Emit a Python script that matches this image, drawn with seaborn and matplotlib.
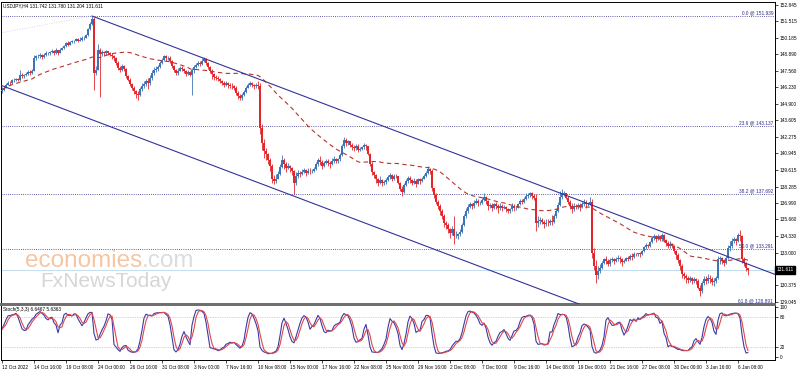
import numpy as np
import pandas as pd
import matplotlib
matplotlib.use("Agg")
import matplotlib.pyplot as plt
import matplotlib.transforms as mtransforms
import seaborn as sns

# ---------------- data ----------------
symbol_line = "USDJPY,H4 131.742 131.780 131.204 131.611"
stoch_line = "Stoch(5,3,3) 6.6467 5.6363"
open0 = 145.90
close = [
    146.05, 146.20, 146.45, 146.60, 146.55, 146.80,
    146.85, 146.90, 146.80, 147.20, 147.10, 147.20,
    147.30, 147.45, 147.40, 147.55, 148.55, 148.70,
    148.75, 148.80, 148.65, 148.85, 148.95, 148.95,
    149.05, 149.15, 148.95, 149.20, 149.00, 149.25,
    149.35, 149.50, 149.75, 149.65, 149.85, 149.90,
    149.95, 150.10, 149.95, 150.05, 150.15, 150.20,
    150.40, 150.90, 151.30, 151.70, 147.40, 147.65,
    149.20, 148.90, 149.05, 148.95, 149.10, 149.00,
    148.85, 148.70, 148.55, 148.20, 147.80, 147.60,
    147.95, 147.70, 147.10, 146.85, 146.50, 146.20,
    145.90, 145.70, 145.60, 146.10, 146.30, 146.50,
    146.70, 146.60, 147.00, 147.40, 147.65, 147.70,
    147.85, 148.20, 148.45, 148.70, 148.55, 148.60,
    148.30, 147.90, 147.60, 147.35, 147.55, 147.80,
    147.70, 147.50, 147.30, 147.45, 147.25, 147.60,
    147.85, 148.05, 148.20, 148.10, 148.35, 148.50,
    148.15, 147.85, 147.55, 147.30, 147.05, 146.95,
    146.90, 146.75, 146.60, 146.45, 146.55, 146.40,
    146.35, 146.30, 146.20, 145.80, 145.55, 145.40,
    145.60, 145.85, 146.20, 146.40, 146.55, 146.45,
    146.30, 146.45, 146.35, 143.00, 141.80, 141.10,
    140.85, 140.40, 139.90, 138.90, 138.70, 138.90,
    139.30, 139.85, 140.40, 140.05, 139.80, 139.95,
    139.75, 139.50, 138.60, 139.10, 139.35, 139.30,
    139.45, 139.60, 139.35, 139.55, 139.50, 139.55,
    139.70, 140.05, 140.40, 140.25, 139.90, 140.20,
    140.35, 140.20, 140.05, 140.35, 140.45, 140.30,
    140.45, 140.80, 141.50, 142.05, 141.75, 141.90,
    141.65, 141.45, 141.35, 141.55, 141.25, 141.30,
    141.45, 141.60, 141.50, 140.90, 140.10, 139.45,
    139.20, 138.85, 138.60, 138.80, 138.55, 138.65,
    138.80, 139.05, 139.20, 138.90, 139.15, 139.10,
    138.60, 138.10, 137.85, 138.40, 138.70, 138.95,
    138.80, 138.55, 138.75, 138.50, 138.85, 138.70,
    138.90, 139.10, 139.40, 139.65, 139.50, 138.15,
    137.60, 137.05, 136.70, 136.30, 135.95, 135.35,
    135.20, 134.85, 134.60, 134.90, 134.30, 134.35,
    134.45, 134.65, 135.20, 135.90, 136.30, 136.65,
    136.90, 136.70, 137.00, 137.15, 136.95, 137.00,
    137.20, 137.45, 137.10, 136.75, 136.80, 136.60,
    136.85, 136.70, 136.55, 136.75, 136.60, 136.65,
    136.50, 136.30, 136.45, 136.70, 136.55, 136.55,
    136.85, 137.10, 137.05, 137.30, 137.55, 137.60,
    137.75, 137.55, 137.40, 135.40, 135.55, 135.60,
    135.45, 135.25, 135.40, 135.35, 135.50, 135.45,
    135.90, 136.35, 136.80, 137.45, 137.70, 137.75,
    137.40, 137.05, 136.75, 136.50, 136.70, 136.65,
    136.80, 136.65, 136.90, 137.00, 136.85, 136.90,
    137.05, 133.00, 131.90, 131.20, 131.55, 131.80,
    132.15, 132.45, 132.35, 132.10, 132.40, 132.45,
    132.30, 132.50, 132.60, 132.45, 132.25, 132.35,
    132.55, 132.50, 132.75, 132.65, 132.90, 132.85,
    132.95, 132.85, 133.10, 133.45, 133.60, 133.50,
    133.85, 134.20, 134.30, 134.10, 134.35, 134.10,
    134.40, 134.00, 133.75, 133.55, 133.70, 133.55,
    133.10, 132.80, 132.40, 131.90, 131.30, 131.15,
    130.95, 130.80, 130.95, 130.75, 130.90, 130.70,
    130.20, 129.95, 130.55, 130.85, 130.70, 131.00,
    130.85, 130.65, 130.70, 130.95, 132.45, 132.55,
    132.35, 132.20, 132.55, 133.40, 133.55, 133.95,
    134.05, 133.90, 134.40, 134.30, 132.45, 132.20,
    131.742, 131.611,
]
high = [
    146.25, 146.35, 146.55, 146.75, 146.70, 146.90,
    146.95, 147.00, 147.00, 147.65, 147.40, 147.30,
    147.45, 147.60, 147.60, 147.70, 148.85, 148.80,
    148.90, 148.95, 148.90, 149.00, 149.10, 149.05,
    149.15, 149.30, 149.20, 149.35, 149.25, 149.35,
    149.45, 149.60, 149.85, 149.90, 149.95, 149.98,
    150.05, 150.20, 150.15, 150.25, 150.30, 150.30,
    150.50, 151.00, 151.45, 151.94, 151.85, 147.90,
    149.70, 149.35, 149.20, 149.15, 149.25, 149.15,
    149.05, 148.95, 148.80, 148.65, 148.30, 147.95,
    148.10, 148.05, 147.75, 147.20, 146.95, 146.60,
    146.35, 146.05, 145.95, 146.25, 146.55, 146.70,
    146.90, 146.95, 147.20, 147.60, 147.85, 147.90,
    148.05, 148.35, 148.60, 148.85, 148.80, 148.75,
    148.70, 148.40, 148.00, 147.70, 147.75, 147.95,
    147.95, 147.80, 147.60, 147.65, 147.55, 147.75,
    148.00, 148.20, 148.35, 148.30, 148.55, 148.65,
    148.55, 148.25, 147.95, 147.70, 147.35, 147.20,
    147.10, 147.00, 146.85, 146.75, 146.70, 146.65,
    146.60, 146.55, 146.45, 146.30, 145.90, 145.70,
    145.80, 146.00, 146.35, 146.55, 146.70, 146.65,
    146.50, 146.60, 146.70, 146.55, 143.30, 142.10,
    141.40, 141.00, 140.60, 140.10, 139.20, 139.25,
    139.55, 140.10, 140.80, 140.60, 140.25, 140.15,
    140.00, 139.85, 139.60, 139.45, 139.60, 139.50,
    139.65, 139.80, 139.70, 139.75, 139.75, 139.70,
    139.85, 140.25, 140.55, 140.75, 140.40, 140.35,
    140.50, 140.45, 140.30, 140.60, 140.70, 140.55,
    140.60, 141.00, 141.70, 142.25, 142.20, 142.05,
    141.95, 141.80, 141.60, 141.70, 141.70, 141.45,
    141.55, 141.80, 141.70, 141.55, 141.00, 140.25,
    139.55, 139.30, 139.00, 139.10, 138.90, 138.80,
    138.95, 139.20, 139.40, 139.25, 139.30, 139.30,
    139.05, 138.65, 138.30, 138.60, 138.85, 139.10,
    139.10, 138.90, 138.95, 138.90, 139.00, 139.00,
    139.05, 139.30, 139.55, 139.90, 139.80, 139.65,
    138.20, 137.75, 137.20, 136.85, 136.45, 136.10,
    135.55, 135.35, 135.00, 135.10, 135.95, 134.70,
    134.60, 134.90, 135.35, 136.10, 136.55, 136.85,
    137.05, 137.00, 137.20, 137.35, 137.30, 137.15,
    137.35, 137.80, 137.55, 137.20, 137.00, 136.95,
    137.00, 137.05, 136.90, 136.95, 136.85, 136.80,
    136.75, 136.60, 136.60, 137.00, 136.85, 136.70,
    137.00, 137.25, 137.30, 137.45, 137.75, 137.80,
    137.85, 137.85, 137.65, 137.70, 135.90, 135.85,
    135.75, 135.60, 135.70, 135.65, 135.70, 136.00,
    136.05, 136.50, 137.05, 137.95, 138.05, 137.90,
    137.80, 137.50, 137.20, 136.95, 136.95, 136.85,
    137.00, 136.95, 137.10, 137.30, 137.20, 137.05,
    137.45, 137.30, 133.40, 132.40, 131.95, 132.05,
    132.30, 132.60, 132.70, 132.45, 132.55, 132.65,
    132.60, 132.65, 132.80, 132.75, 132.55, 132.50,
    132.65, 132.70, 132.90, 132.95, 133.05, 132.95,
    133.00, 133.05, 133.20, 133.55, 133.75, 133.70,
    133.95, 134.35, 134.50, 134.40, 134.45, 134.40,
    134.55, 134.50, 134.10, 133.95, 133.90, 133.80,
    133.60, 133.20, 132.95, 132.50, 132.05, 131.45,
    131.30, 131.10, 131.15, 131.05, 131.05, 131.00,
    130.85, 130.40, 130.75, 131.10, 131.15, 131.25,
    131.20, 131.05, 131.00, 131.15, 132.70, 132.75,
    132.65, 132.50, 132.75, 133.60, 133.95, 134.15,
    134.25, 134.20, 134.60, 134.77, 134.40, 132.65,
    132.25, 131.780,
]
low = [
    145.80, 145.95, 146.15, 146.40, 146.40, 146.50,
    146.65, 146.75, 146.70, 146.75, 146.95, 147.00,
    147.10, 147.20, 147.25, 147.30, 147.50, 148.45,
    148.55, 148.60, 148.50, 148.60, 148.75, 148.80,
    148.85, 148.95, 148.80, 148.90, 148.85, 148.95,
    149.20, 149.30, 149.45, 149.50, 149.60, 149.75,
    149.80, 149.90, 149.85, 149.90, 149.95, 150.05,
    150.15, 150.35, 150.85, 151.20, 146.00, 147.20,
    147.60, 145.45, 148.70, 148.75, 148.85, 148.80,
    148.70, 148.50, 148.35, 148.05, 147.65, 147.45,
    147.50, 147.55, 146.95, 146.70, 146.30, 146.05,
    145.70, 145.40, 145.20, 145.55, 145.95, 146.15,
    146.30, 146.10, 146.40, 146.85, 147.25, 147.45,
    147.55, 147.75, 148.10, 148.35, 148.30, 148.40,
    148.20, 147.80, 147.45, 147.20, 147.25, 147.50,
    147.55, 147.35, 147.15, 147.20, 147.10, 145.60,
    147.40, 147.75, 147.95, 147.90, 148.00, 148.25,
    148.00, 147.70, 147.40, 146.90, 146.85, 146.80,
    146.70, 146.55, 146.40, 146.25, 146.35, 146.20,
    146.15, 146.10, 146.00, 145.60, 145.30, 145.20,
    145.25, 145.50, 145.80, 146.15, 146.30, 146.25,
    146.10, 146.20, 146.10, 142.50, 141.20, 140.60,
    140.40, 140.10, 139.50, 138.55, 138.45, 138.55,
    138.85, 139.20, 139.75, 139.70, 139.45, 139.65,
    139.45, 139.20, 137.70, 138.40, 138.95, 139.05,
    139.20, 139.35, 139.15, 139.25, 139.25, 139.35,
    139.45, 139.60, 139.95, 140.00, 139.70, 139.85,
    140.10, 139.95, 139.80, 140.00, 140.15, 140.15,
    140.20, 140.35, 140.75, 141.40, 141.55, 141.60,
    141.45, 141.25, 141.10, 141.20, 141.05, 141.15,
    141.20, 141.30, 141.20, 140.80, 139.90, 139.20,
    138.95, 138.60, 138.35, 138.45, 138.30, 138.40,
    138.50, 138.70, 138.90, 138.75, 138.80, 138.95,
    138.45, 137.95, 137.55, 137.80, 138.30, 138.60,
    138.55, 138.40, 138.45, 138.25, 138.45, 138.50,
    138.65, 138.85, 139.05, 139.30, 139.25, 137.95,
    137.40, 136.85, 136.45, 136.00, 135.70, 135.05,
    134.90, 134.55, 134.20, 134.40, 133.65, 134.15,
    134.10, 134.35, 134.60, 135.10, 135.80, 136.20,
    136.55, 136.50, 136.60, 136.85, 136.75, 136.80,
    136.90, 137.10, 136.85, 136.40, 136.55, 136.35,
    136.50, 136.45, 136.20, 136.40, 136.35, 136.45,
    136.25, 136.15, 136.20, 136.35, 136.35, 136.40,
    136.60, 136.80, 136.90, 136.95, 137.20, 137.40,
    137.45, 137.30, 137.20, 134.70, 135.05, 135.30,
    135.25, 135.00, 135.10, 135.10, 135.20, 135.20,
    135.40, 135.80, 136.25, 136.70, 137.25, 137.50,
    137.25, 136.90, 136.45, 136.20, 136.35, 136.45,
    136.45, 136.35, 136.60, 136.70, 136.60, 136.70,
    136.80, 132.60, 131.60, 130.58, 130.90, 131.35,
    131.70, 132.05, 132.05, 131.90, 131.95, 132.25,
    132.10, 132.25, 132.35, 132.20, 131.95, 132.15,
    132.30, 132.35, 132.40, 132.40, 132.55, 132.75,
    132.70, 132.65, 132.80, 133.05, 133.30, 133.35,
    133.45, 133.80, 134.00, 133.85, 134.00, 133.90,
    133.95, 133.85, 133.50, 133.35, 133.40, 133.35,
    132.95, 132.50, 132.20, 131.60, 130.95, 130.90,
    130.60, 130.55, 130.65, 130.50, 130.60, 130.45,
    130.05, 129.50, 129.80, 130.40, 130.45, 130.60,
    130.55, 130.40, 130.35, 130.55, 130.85, 132.10,
    132.05, 131.90, 132.10, 132.45, 133.10, 133.40,
    133.80, 133.60, 133.85, 133.90, 132.20, 131.95,
    131.55, 131.204,
]
date_labels = ["12 Oct 2022", "14 Oct 16:00", "19 Oct 08:00", "24 Oct 00:00", "26 Oct 16:00",
               "31 Oct 08:00", "3 Nov 00:00", "7 Nov 16:00", "10 Nov 08:00", "15 Nov 00:00",
               "17 Nov 16:00", "22 Nov 08:00", "25 Nov 00:00", "29 Nov 16:00", "2 Dec 08:00",
               "7 Dec 00:00", "9 Dec 16:00", "14 Dec 08:00", "19 Dec 00:00", "21 Dec 16:00",
               "27 Dec 08:00", "30 Dec 00:00", "3 Jan 16:00", "6 Jan 08:00"]
bars_per_label = 16
price_ticks = [152.845, 151.515, 150.185, 148.890, 147.560, 146.230, 144.900, 143.605,
               142.275, 140.945, 139.615, 138.285, 136.990, 135.660, 134.330, 133.000,
               130.375, 129.045]
stoch_ticks = [100, 80, 20, 0]
fib_levels = [0.0, 23.6, 38.2, 50.0, 61.8]
fib_prices = [151.939, 143.137, 137.692, 133.291, 128.891]
last_price = 131.611
upper_channel_bars = [45, 386.5]
upper_channel_prices = [151.939, 131.25]
lower_channel_bars = [-1, 386.5]
lower_channel_prices = [146.42, 122.94]
fib_trend_bars = [-1, 45]
fib_trend_prices = [150.58, 151.939]
ma_period = 50

# ---------------- styling ----------------
sns.set_theme(style="white")
plt.rcParams["font.family"] = ["Liberation Sans", "DejaVu Sans"]
FS = 3.4
BULL = "#3f74b4"
BEAR = "#e3262b"
NAVY = "#2b2b8c"
W, H = 798, 372

df = pd.DataFrame({"bar": np.arange(len(close)), "close": close, "high": high, "low": low})
df["open"] = [open0] + close[:-1]
df["high"] = np.maximum(df["high"], df[["open", "close"]].max(axis=1))
df["low"] = np.minimum(df["low"], df[["open", "close"]].min(axis=1))
df["ma"] = df["close"].rolling(ma_period, min_periods=1).mean()
ll = df["low"].rolling(5, min_periods=1).min()
hh = df["high"].rolling(5, min_periods=1).max()
df["k"] = (df["close"] - ll).rolling(3, min_periods=1).sum() / (hh - ll).rolling(3, min_periods=1).sum() * 100
df["d"] = df["k"].rolling(3, min_periods=1).mean()

fig = plt.figure(figsize=(W / 100, H / 100), dpi=100)
fig.patch.set_facecolor("white")
L, R = 1 / W, 775 / W
ax = fig.add_axes([L, 1 - 304 / H, R - L, 302 / H])
ax2 = fig.add_axes([L, 1 - 360 / H, R - L, 55 / H])
xlim = (-0.5, 386.5)

# fib lines and current price line
for lvl, p in zip(fib_levels, fib_prices):
    ax.axhline(p, color=NAVY, lw=0.6, ls=(0, (1, 1.6)), zorder=1)
    ax.text(385.5, p + 0.08, f"{lvl:.1f} @ {p:.3f}", ha="right", va="bottom",
            fontsize=FS, color=NAVY, zorder=5)
ax.axhline(last_price, color="#c6dff0", lw=0.8, zorder=1)

# watermark
t1 = fig.text(25 / W, 1 - 267 / H, "economies", fontsize=17.5, color="#f6c6a2",
              family=["Liberation Sans", "DejaVu Sans"], zorder=0)
fig.canvas.draw()
bb = t1.get_window_extent()
fig.text(bb.x1 / W, 1 - 267 / H, ".com", fontsize=17.5, color="#dcdcdc",
         family=["Liberation Sans", "DejaVu Sans"], zorder=0)
fig.text(40 / W, 1 - 287 / H, "FxNewsToday", fontsize=15, color="#d6d6d6",
         family=["Liberation Sans", "DejaVu Sans"], zorder=0)

# candles
up = df["close"] >= df["open"]
cols = np.where(up, BULL, BEAR)
ax.vlines(df["bar"], df["low"], df["high"], colors=cols, lw=0.6, zorder=3)
body = (df["close"] - df["open"]).abs().clip(lower=0.04)
ax.bar(df["bar"], body, bottom=np.minimum(df["open"], df["close"]), width=0.8,
       color=cols, linewidth=0, zorder=3)

# moving average
sns.lineplot(data=df, x="bar", y="ma", ax=ax, color="#b8342c", lw=0.8,
             linestyle=(0, (4, 3)), zorder=4)

# channel & fib trend line
ch_up = pd.DataFrame({"bar": upper_channel_bars, "p": upper_channel_prices})
ch_lo = pd.DataFrame({"bar": lower_channel_bars, "p": lower_channel_prices})
ft = pd.DataFrame({"bar": fib_trend_bars, "p": fib_trend_prices})
sns.lineplot(data=ch_up, x="bar", y="p", ax=ax, color="#33339a", lw=0.8, zorder=4)
sns.lineplot(data=ch_lo, x="bar", y="p", ax=ax, color="#33339a", lw=0.8, zorder=4)
sns.lineplot(data=ft, x="bar", y="p", ax=ax, color="#c9c9e6", lw=0.6,
             linestyle=(0, (1, 2)), zorder=2)

ax.set_xlim(*xlim)
ax.set_ylim(128.88, 153.06)
ax.set_xlabel("")
ax.set_ylabel("")
ax.set_xticks([])
ax.yaxis.tick_right()
ax.set_yticks(price_ticks)
ax.set_yticklabels([f"{v:.3f}" for v in price_ticks])
ax.tick_params(axis="y", right=True, left=False, length=2, width=0.5, pad=1.2,
               labelsize=FS, colors="black")
for s in ax.spines.values():
    s.set_color("black")
    s.set_linewidth(0.7)
ax.spines["bottom"].set_color("#6e6e6e")
ax.spines["bottom"].set_linewidth(1.4)
ax.text(0.003, 0.996, symbol_line, transform=ax.transAxes, ha="left", va="top",
        fontsize=FS, color="black")
trans = mtransforms.blended_transform_factory(ax.transAxes, ax.transData)
ax.text(1.002, last_price, "131.611", transform=trans, ha="left", va="center",
        fontsize=FS, color="white",
        bbox=dict(boxstyle="square,pad=0.35", fc="black", ec="black"), zorder=6,
        clip_on=False)

# stochastic
ax2.axhline(80, color="#a8a8a8", lw=0.5, ls=(0, (1, 1.5)))
ax2.axhline(20, color="#a8a8a8", lw=0.5, ls=(0, (1, 1.5)))
sns.lineplot(data=df, x="bar", y="k", ax=ax2, color="#3b3ba6", lw=0.8)
sns.lineplot(data=df, x="bar", y="d", ax=ax2, color="#e0474c", lw=0.8)
ax2.set_xlim(*xlim)
ax2.set_ylim(-6, 104)
ax2.set_xlabel("")
ax2.set_ylabel("")
ax2.yaxis.tick_right()
ax2.set_yticks(stoch_ticks)
ax2.set_yticklabels([str(v) for v in stoch_ticks])
ticks = np.arange(len(date_labels)) * bars_per_label
ax2.set_xticks(ticks)
ax2.set_xticklabels(date_labels)
for lbl in ax2.get_xticklabels():
    lbl.set_ha("left")
ax2.tick_params(axis="y", right=True, left=False, length=2, width=0.5, pad=1.2,
                labelsize=FS, colors="black")
ax2.tick_params(axis="x", bottom=True, length=2, width=0.5, pad=1.5,
                labelsize=FS, colors="black")
for s in ax2.spines.values():
    s.set_color("black")
    s.set_linewidth(0.7)
ax2.spines["top"].set_color("#6e6e6e")
ax2.spines["top"].set_linewidth(1.4)
ax2.text(0.003, 0.97, stoch_line, transform=ax2.transAxes, ha="left", va="top",
         fontsize=FS, color="black")

fig.savefig("out.png", dpi=100, facecolor="white")
